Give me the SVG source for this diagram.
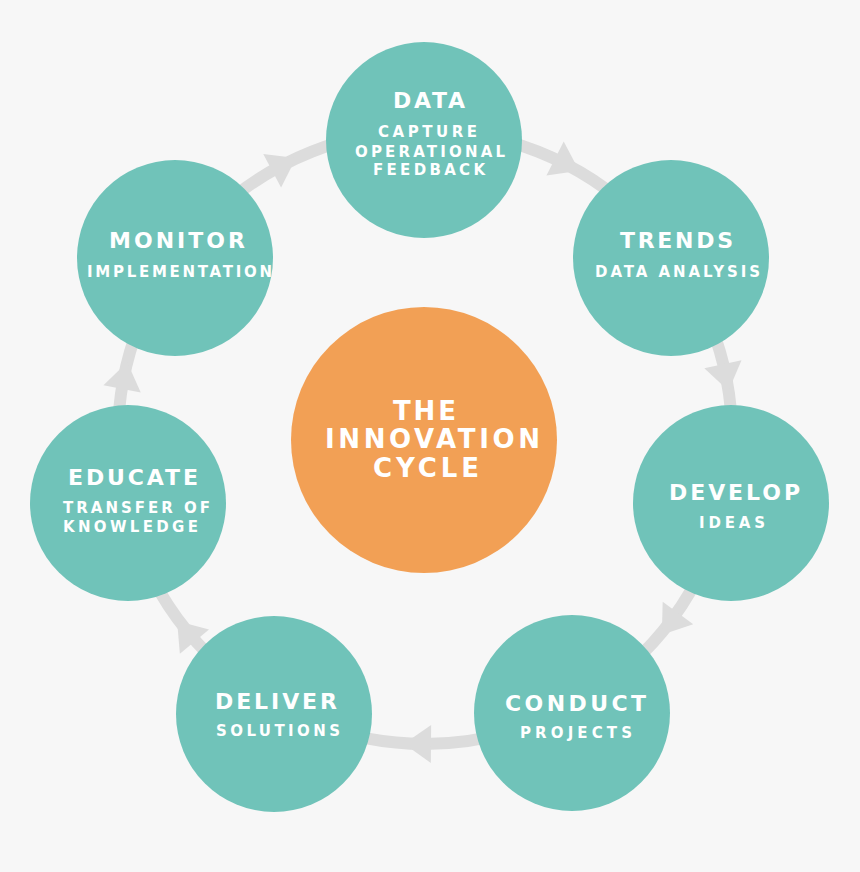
<svg xmlns="http://www.w3.org/2000/svg" width="860" height="872" viewBox="0 0 860 872">
<defs>
<style>
.node{fill:#70c3b9}
.hub{fill:#f2a055}
.t{font-family:"DejaVu Sans","Liberation Sans",sans-serif;font-weight:700;fill:#ffffff;text-anchor:middle}
.h{font-size:22px}
.s{font-size:15px}
.c{font-size:26px}
.ring{fill:none;stroke:#dcdcdc;stroke-width:12}
.ah{fill:#dcdcdc}
</style>
<polygon id="arr" points="17,0 -10,-19 -10,19"/>
</defs>
<rect width="860" height="872" fill="#f7f7f7"/>
<g id="connectors">
<circle class="ring" cx="425" cy="437" r="307"/>
<use href="#arr" class="ah" transform="translate(281,166) rotate(-28)"/>
<use href="#arr" class="ah" transform="translate(564,163) rotate(27)"/>
<use href="#arr" class="ah" transform="translate(725,374) rotate(78)"/>
<use href="#arr" class="ah" transform="translate(672,621) rotate(126.5)"/>
<use href="#arr" class="ah" transform="translate(421,744) rotate(180.5)"/>
<use href="#arr" class="ah" transform="translate(188,634) rotate(230)"/>
<use href="#arr" class="ah" transform="translate(124,379) rotate(281)"/>
</g>
<g id="center">
<circle class="hub" cx="424" cy="440" r="133"/>
<text class="t c" x="424.5" y="420" textLength="63" lengthAdjust="spacing">THE</text>
<text class="t c" x="432.5" y="448" textLength="215" lengthAdjust="spacing">INNOVATION</text>
<text class="t c" x="426" y="477" textLength="106" lengthAdjust="spacing">CYCLE</text>
</g>
<g id="data">
<circle class="node" cx="424" cy="140" r="98"/>
<text class="t h" x="429" y="108" textLength="72" lengthAdjust="spacing">DATA</text>
<text class="t s" x="427.5" y="137" textLength="99" lengthAdjust="spacing">CAPTURE</text>
<text class="t s" x="430" y="157" textLength="150" lengthAdjust="spacing">OPERATIONAL</text>
<text class="t s" x="429" y="175" textLength="112" lengthAdjust="spacing">FEEDBACK</text>
</g>
<g id="trends">
<circle class="node" cx="671" cy="258" r="98"/>
<text class="t h" x="676.5" y="248" textLength="113" lengthAdjust="spacing">TRENDS</text>
<text class="t s" x="677.5" y="277" textLength="165" lengthAdjust="spacing">DATA ANALYSIS</text>
</g>
<g id="develop">
<circle class="node" cx="731" cy="503" r="98"/>
<text class="t h" x="734.5" y="500" textLength="131" lengthAdjust="spacing">DEVELOP</text>
<text class="t s" x="732" y="528" textLength="66" lengthAdjust="spacing">IDEAS</text>
</g>
<g id="conduct">
<circle class="node" cx="572" cy="713" r="98"/>
<text class="t h" x="575.5" y="711" textLength="141" lengthAdjust="spacing">CONDUCT</text>
<text class="t s" x="576" y="738" textLength="112" lengthAdjust="spacing">PROJECTS</text>
</g>
<g id="deliver">
<circle class="node" cx="274" cy="714" r="98"/>
<text class="t h" x="276" y="709" textLength="122" lengthAdjust="spacing">DELIVER</text>
<text class="t s" x="278" y="736" textLength="124" lengthAdjust="spacing">SOLUTIONS</text>
</g>
<g id="educate">
<circle class="node" cx="128" cy="503" r="98"/>
<text class="t h" x="133" y="485" textLength="130" lengthAdjust="spacing">EDUCATE</text>
<text class="t s" x="136.5" y="513" textLength="147" lengthAdjust="spacing">TRANSFER OF</text>
<text class="t s" x="130.5" y="532" textLength="135" lengthAdjust="spacing">KNOWLEDGE</text>
</g>
<g id="monitor">
<circle class="node" cx="175" cy="258" r="98"/>
<text class="t h" x="177" y="248" textLength="136" lengthAdjust="spacing">MONITOR</text>
<text class="t s" x="179.5" y="277" textLength="185" lengthAdjust="spacing">IMPLEMENTATION</text>
</g>
</svg>
